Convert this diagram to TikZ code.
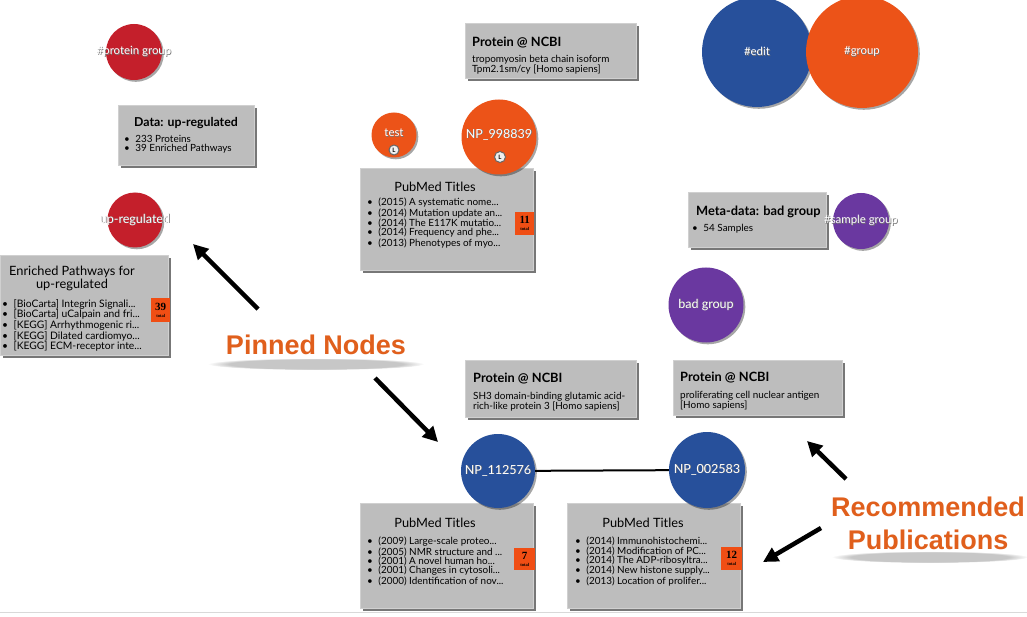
\documentclass[tikz,border=0pt]{standalone}
\usepackage{fontspec}
\setmainfont{Lato}
\newfontfamily\calloutfont{Liberation Sans}
\newfontfamily\badgefont{Liberation Serif}
\usetikzlibrary{arrows.meta,shadows,fadings}
\definecolor{cardgray}{HTML}{BDBDBD}
\definecolor{cardedge}{HTML}{D0D0D0}
\definecolor{shadegray}{HTML}{777777}
\definecolor{tagred}{HTML}{C41F2B}
\definecolor{tagorange}{HTML}{EC5318}
\definecolor{tagblue}{HTML}{27509B}
\definecolor{tagpurple}{HTML}{6A38A0}
\definecolor{badgeorange}{HTML}{F04E14}
\definecolor{noteorange}{HTML}{E05F1C}
\newcommand{\glow}[1]{\rlap{\kern.7pt\raisebox{-.7pt}{\color{black!55}#1}}#1}
\newcommand{\itm}{\textbullet\hspace{5.5pt}}

\begin{document}
\begin{tikzpicture}[x=1pt,y=-1pt,
  card/.style={fill=cardgray,draw=cardedge,line width=.6pt,inner sep=0pt,anchor=north west,
    drop shadow={shadow xshift=2.5pt,shadow yshift=-2.5pt,fill=shadegray,opacity=1}},
  cardtitle/.style={inner sep=0pt,font=\bfseries\fontsize{12.8}{14}\selectfont},
  cardhead/.style={inner sep=0pt,font=\fontsize{12.8}{13.5}\selectfont,align=center},
  cardtext/.style={inner sep=0pt,anchor=north west,align=left,font=\fontsize{9.9}{9.2}\selectfont},
  badge/.style={fill=badgeorange,inner sep=0pt,anchor=north west,align=center,
    font=\badgefont\bfseries\fontsize{11}{8}\selectfont},
  bubble/.style={circle,inner sep=0pt,
    drop shadow={shadow xshift=1.8pt,shadow yshift=-1.8pt,fill=black,opacity=.35}},
  bubbletext/.style={inner sep=0pt,text=white,font=\fontsize{11.4}{12}\selectfont},
  lmark/.style={circle,fill=gray!12,draw=black!60,line width=1pt,inner sep=0pt,
    minimum size=10pt,font=\bfseries\fontsize{6}{6}\selectfont},
  callout/.style={text=noteorange,align=center,font=\calloutfont\bfseries\fontsize{27}{33}\selectfont},
  pointer/.style={-{Triangle[length=15pt,width=15pt]},line width=4.5pt},
  link/.style={line width=2pt}
]
\fill[white] (0,0) rectangle (1027,617);
\useasboundingbox (0,0) rectangle (1027,617);
\draw[gray!30] (0,612) -- (1027,612);

\node[card,minimum width=136pt,minimum height=60pt] (datacard) at (118,105) {};
\node[cardtitle,font=\bfseries\fontsize{12.3}{14}\selectfont] (datatitle) at (186,123) {Data: up-regulated};
\node[cardtext] (datalist) at (124,135) {\itm 233 Proteins\\ \itm 39 Enriched Pathways};

\node[card,minimum width=168pt,minimum height=100pt] (pathcard) at (0,255) {};
\node[cardhead] (pathtitle) at (72,278.5) {Enriched Pathways for\\ up-regulated};
\node[cardtext,font=\fontsize{10.3}{8.5}\selectfont] (pathlist) at (2,299)
  {\itm [BioCarta] Integrin Signali...\\ \itm [BioCarta] uCalpain and fri...\\ \itm [KEGG] Arrhythmogenic ri...\\
   \itm [KEGG] Dilated cardiomyo...\\ \itm [KEGG] ECM-receptor inte...};
\node[badge,minimum width=19pt,minimum height=24pt] (pathbadge) at (151,298) {39\\[-1pt]{\fontsize{4.5}{5}\selectfont total}};

\node[card,minimum width=171pt,minimum height=55pt] (ncbitop) at (465,23) {};
\node[cardtitle,anchor=west] (ncbitoptitle) at (472,43) {Protein @ NCBI};
\node[cardtext] (ncbitoplist) at (472,55) {tropomyosin beta chain isoform\\ Tpm2.1sm/cy [Homo sapiens]};

\node[card,minimum width=173pt,minimum height=102pt] (pubcardA) at (360,168) {};
\node[cardhead] (pubtitleA) at (435,187) {PubMed Titles};
\node[cardtext] (publistA) at (367,198)
  {\itm (2015) A systematic nome...\\ \itm (2014) Mutation update an...\\ \itm (2014) The E117K mutatio...\\
   \itm (2014) Frequency and phe...\\ \itm (2013) Phenotypes of myo...};
\node[badge,minimum width=19pt,minimum height=23pt] (pubbadgeA) at (515,212) {11\\[-1pt]{\fontsize{4.5}{5}\selectfont total}};

\node[card,minimum width=138pt,minimum height=55pt] (metacard) at (688,192) {};
\node[cardtitle,anchor=west] (metatitle) at (696,212) {Meta-data: bad group};
\node[cardtext] (metalist) at (692,224) {\itm 54 Samples};

\node[card,minimum width=171pt,minimum height=57pt] (ncbimid) at (465,360) {};
\node[cardtitle,anchor=west] (ncbimidtitle) at (473,379) {Protein @ NCBI};
\node[cardtext] (ncbimidlist) at (473,392) {SH3 domain-binding glutamic acid-\\ rich-like protein 3 [Homo sapiens]};

\node[card,minimum width=169pt,minimum height=55pt] (ncbiright) at (673,360) {};
\node[cardtitle,anchor=west] (ncbirighttitle) at (680,378) {Protein @ NCBI};
\node[cardtext] (ncbirightlist) at (680,391) {proliferating cell nuclear antigen\\ {[Homo sapiens]}};

\node[card,minimum width=173pt,minimum height=105pt] (pubcardB) at (360,503) {};
\node[cardhead] (pubtitleB) at (435,523) {PubMed Titles};
\node[cardtext] (publistB) at (367,537)
  {\itm (2009) Large-scale proteo...\\ \itm (2005) NMR structure and ...\\ \itm (2001) A novel human ho...\\
   \itm (2001) Changes in cytosoli...\\ \itm (2000) Identification of nov...};
\node[badge,minimum width=21pt,minimum height=22pt] (pubbadgeB) at (514,548) {7\\[-1pt]{\fontsize{4.5}{5}\selectfont total}};

\node[card,minimum width=173pt,minimum height=105pt] (pubcardC) at (567,503) {};
\node[cardhead] (pubtitleC) at (643,523) {PubMed Titles};
\node[cardtext] (publistC) at (575,537)
  {\itm (2014) Immunohistochemi...\\ \itm (2014) Modification of PC...\\ \itm (2014) The ADP-ribosyltra...\\
   \itm (2014) New histone supply...\\ \itm (2013) Location of prolifer...};
\node[badge,minimum width=21pt,minimum height=23pt] (pubbadgeC) at (721,547) {12\\[-1pt]{\fontsize{4.5}{5}\selectfont total}};

\node[bubble,fill=tagred,minimum size=56pt] (protgroup) at (134,52) {};
\node[bubbletext] (protgrouptext) at (protgroup) {\glow{\#protein group}};
\node[bubble,fill=tagred,minimum size=55pt] (upreg) at (135,220) {};
\node[bubbletext,font=\fontsize{12.5}{13}\selectfont] (upregtext) at (upreg) {\glow{up-regulated}};

\node[bubble,fill=tagorange,minimum size=45pt] (test) at (394,135) {};
\node[bubbletext] (testtext) at (394,133) {\glow{test}};
\node[lmark] (testlock) at (394,150) {L};
\node[bubble,fill=tagorange,minimum size=75pt] (np998839) at (499,137) {};
\node[bubbletext,font=\fontsize{12.5}{13}\selectfont] (np998839text) at (499,135) {\glow{NP\_998839}};
\node[lmark,minimum size=11pt] (np998839lock) at (500,157) {L};

\node[bubble,fill=tagblue,minimum size=110pt] (edit) at (757,52) {};
\node[bubbletext] (edittext) at (edit) {\glow{\#edit}};
\node[bubble,fill=tagorange,minimum size=112pt] (group) at (862,52) {};
\node[bubbletext] (grouptext) at (group) {\glow{\#group}};

\node[bubble,fill=tagpurple,minimum size=56pt] (samplegroup) at (861,221) {};
\node[bubbletext] (samplegrouptext) at (861,221) {\glow{\#sample group}};
\node[bubble,fill=tagpurple,minimum size=75pt] (badgroup) at (706,305) {};
\node[bubbletext,font=\fontsize{12.5}{13}\selectfont] (badgrouptext) at (badgroup) {\glow{bad group}};

\draw[link] (498,471) -- (707,470);
\node[bubble,fill=tagblue,minimum size=74pt] (np112576) at (498,471) {};
\node[bubbletext,font=\fontsize{12.5}{13}\selectfont] (np112576text) at (np112576) {\glow{NP\_112576}};
\node[bubble,fill=tagblue,minimum size=76pt] (np002583) at (707,470) {};
\node[bubbletext,font=\fontsize{12.5}{13}\selectfont] (np002583text) at (np002583) {\glow{NP\_002583}};

\fill[black,opacity=.22,path fading=circle with fuzzy edge 20 percent] (316,364) ellipse [x radius=108, y radius=6];
\fill[black,opacity=.22,path fading=circle with fuzzy edge 20 percent] (930,557) ellipse [x radius=98, y radius=6];
\node[callout] (pinned) at (316,345) {Pinned Nodes};
\node[callout] (recommended) at (928,523) {Recommended\\ Publications};

\coordinate (pinA) at (258,309);
\coordinate (pinAtip) at (193,244);
\coordinate (pinB) at (375,378);
\coordinate (pinBtip) at (438,442);
\coordinate (recA) at (846,479);
\coordinate (recAtip) at (807,441);
\coordinate (recB) at (821,528);
\coordinate (recBtip) at (763,562);
\draw[pointer] (pinA) -- (pinAtip);
\draw[pointer] (pinB) -- (pinBtip);
\draw[pointer] (recA) -- (recAtip);
\draw[pointer] (recB) -- (recBtip);
\end{tikzpicture}
\end{document}
